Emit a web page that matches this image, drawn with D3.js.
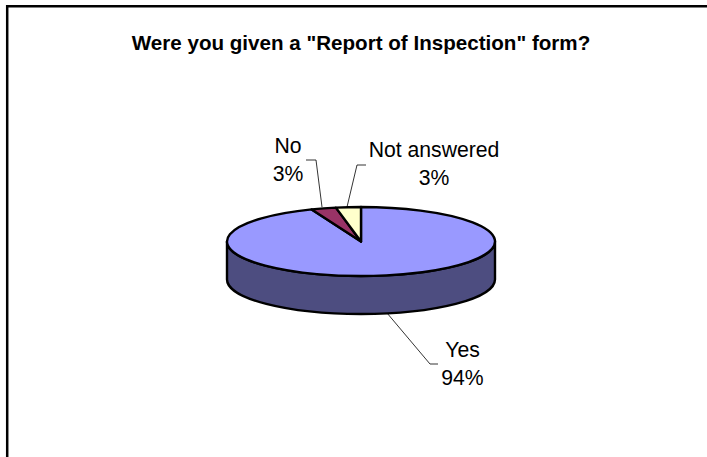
<!DOCTYPE html>
<html><head><meta charset="utf-8">
<script src="https://cdn.jsdelivr.net/npm/d3@7/dist/d3.min.js"></script>
<style>html,body{margin:0;padding:0;background:#fff}svg{display:block}text{font-family:"Liberation Sans",Arial,sans-serif;fill:#000}</style>
</head><body><svg id="c" width="707" height="457"></svg>
<script>
const categories = ["Yes", "No", "Not answered"];
const seriesValues = [94, 3, 3];
const percentLabels = ["94%", "3%", "3%"];
const sliceColors = ["#9999ff", "#993366", "#ffffcc"];
const wallColor = "#4d4d80";
const titleText = 'Were you given a "Report of Inspection" form?';

const svg = d3.select("#c");
const cx = 361, cy = 241.5, rx = 134, ry = 34.5, depth = 38;

// frame
svg.append("path").attr("d", "M7.2 457V6.2H707").attr("fill", "none").attr("stroke", "#000").attr("stroke-width", 2.5);

svg.append("text").attr("x", 361).attr("y", 50).attr("text-anchor", "middle")
  .attr("font-size", 20.6).attr("font-weight", "bold").text(titleText);

const pieData = d3.pie().sort(null).value(d => d)(seriesValues);
const arc = d3.arc().innerRadius(0).outerRadius(rx);

// side wall (front half of the cylinder)
svg.append("path")
  .attr("d", `M${cx-rx},${cy}V${cy+depth}A${rx},${ry} 0 0 0 ${cx+rx},${cy+depth}V${cy}A${rx},${ry} 0 0 1 ${cx-rx},${cy}Z`)
  .attr("fill", wallColor).attr("stroke", "#000").attr("stroke-width", 2.4).attr("stroke-linejoin", "round");

// top face
const topFace = svg.append("g").attr("transform", `translate(${cx},${cy}) scale(1,${ry/rx})`);
topFace.selectAll("path").data(pieData).join("path")
  .attr("d", arc)
  .attr("fill", (d, i) => sliceColors[i])
  .attr("stroke", "#000").attr("stroke-width", 2.4).attr("stroke-linejoin", "round")
  .attr("vector-effect", "non-scaling-stroke");

// leader lines
const leaders = [
  [[387, 313], [430, 364], [438, 364]],
  [[322, 207], [316, 160], [306, 160]],
  [[347, 207], [357, 165], [366, 165]]
];
svg.selectAll("path.leader").data(leaders).join("path").attr("class", "leader")
  .attr("d", d => d3.line()(d)).attr("fill", "none").attr("stroke", "#000").attr("stroke-width", 0.8);

// labels
const labelPos = [[462.5, 357], [288, 153], [434, 157]];
categories.forEach((c, i) => {
  const t = svg.append("text").attr("text-anchor", "middle").attr("font-size", 21.2);
  t.append("tspan").attr("x", labelPos[i][0]).attr("y", labelPos[i][1]).text(c);
  t.append("tspan").attr("x", labelPos[i][0]).attr("y", labelPos[i][1] + 27.5).text(percentLabels[i]);
});
</script></body></html>
